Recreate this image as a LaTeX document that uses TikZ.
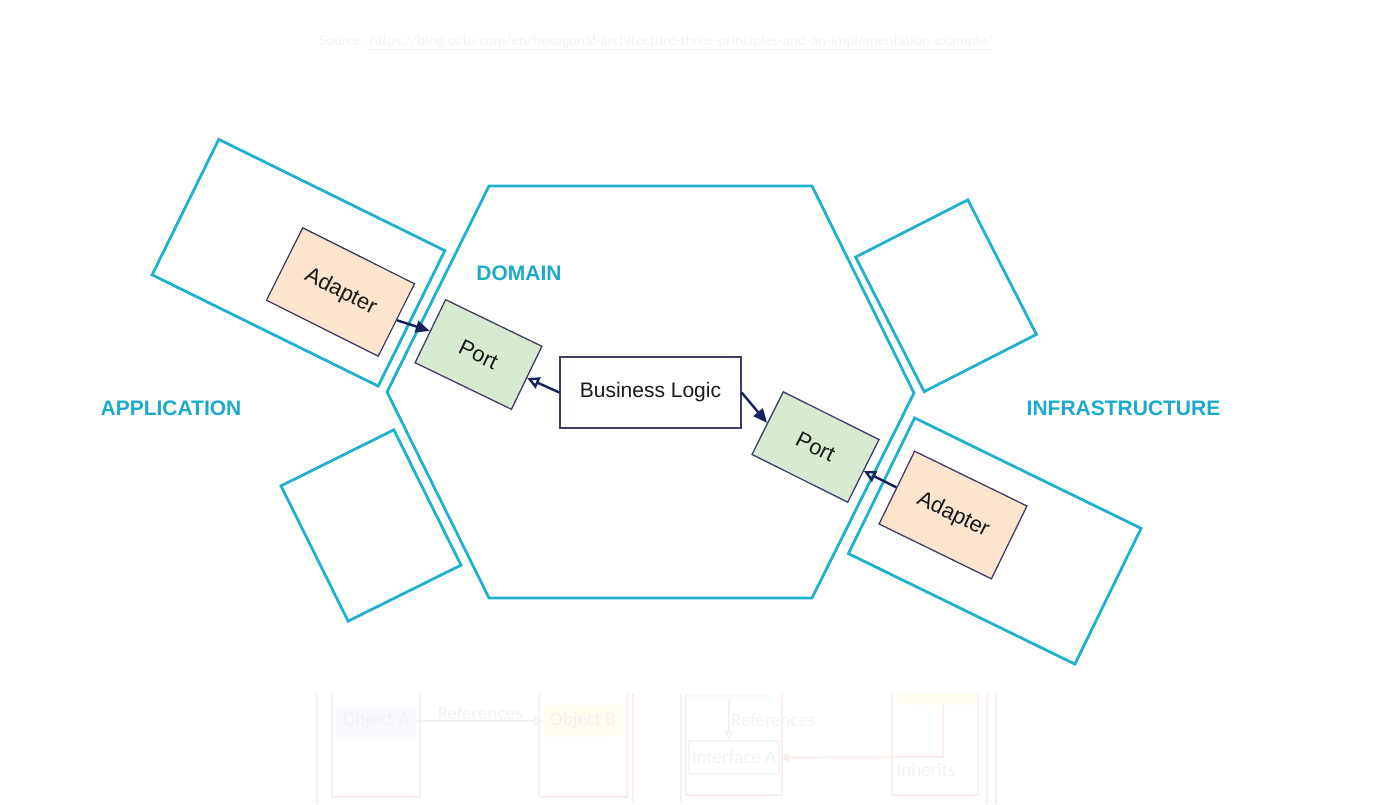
\documentclass[tikz,border=0pt]{standalone}
\usepackage{fontspec}
\setmainfont{Liberation Sans}
\newfontfamily\ghostfont{Carlito}
\usepackage{graphicx}
\usetikzlibrary{arrows.meta, positioning}
\definecolor{hexcyan}{RGB}{32,178,204}
\definecolor{labelcyan}{RGB}{28,170,204}
\definecolor{adapterfill}{RGB}{252,228,205}
\definecolor{portfill}{RGB}{217,234,211}
\definecolor{boxborder}{RGB}{62,62,102}
\definecolor{arrownavy}{RGB}{22,34,92}
\definecolor{ghostgray}{RGB}{242,242,242}
\definecolor{ghostpink}{RGB}{253,238,238}
\definecolor{ghostblue}{RGB}{248,250,253}
\definecolor{ghostframe}{RGB}{241,246,251}
\definecolor{ghostyellow}{RGB}{255,252,240}
\tikzstyle{zone} = [rectangle, draw=hexcyan, line width=2.8pt, inner sep=0pt, minimum width=252pt, minimum height=151pt]
\tikzstyle{smallzone} = [zone, minimum width=126pt, minimum height=151pt]
\tikzstyle{hexline} = [draw=hexcyan, line width=2.8pt, line join=miter]
\tikzstyle{adapter} = [rectangle, draw=boxborder, line width=1.3pt, fill=adapterfill, minimum width=125pt, minimum height=81pt, text=black!90, font=\fontsize{22}{26}\selectfont]
\tikzstyle{port} = [rectangle, draw=boxborder, line width=1.3pt, fill=portfill, minimum width=107pt, minimum height=70pt, text=black!90, font=\fontsize{22}{26}\selectfont]
\tikzstyle{logic} = [rectangle, draw=boxborder, line width=1.3pt, fill=white, minimum width=181pt, minimum height=71pt, text=black!90, font=\fontsize{21}{25}\selectfont]
\tikzstyle{layer} = [text=labelcyan, font=\bfseries\fontsize{21}{25}\selectfont]
\tikzstyle{uses} = [-{Triangle[length=14pt, width=12pt]}, line width=2.4pt, draw=arrownavy]
\tikzstyle{implements} = [-{Triangle[open, length=12pt, width=12pt]}, line width=2.4pt, draw=arrownavy]
\tikzstyle{ghosttext} = [text=ghostgray, font=\ghostfont\fontsize{19}{22}\selectfont, inner sep=1pt]
\tikzstyle{ghostbox} = [rectangle, inner sep=0pt, text=ghostgray, font=\ghostfont\fontsize{19}{22}\selectfont]
\tikzstyle{ghostwall} = [draw=ghostpink, line width=1.2pt]
\tikzstyle{ghostarrow} = [-{Triangle[open, length=9pt, width=9pt]}, draw=ghostgray, line width=1.6pt]
\tikzstyle{ghostinherit} = [-{Triangle[length=9pt, width=9pt]}, draw=ghostpink, line width=2.2pt]

\begin{document}
\begin{tikzpicture}[x=1pt, y=1pt, node distance=172pt]
\useasboundingbox (0,0) rectangle (1395,804);
% faint leftovers of the next slide
\node (src) [ghosttext] at (656,762) {\resizebox{674pt}{!}{Source: \underline{https://blog.octo.com/en/hexagonal-architecture-three-principles-and-an-implementation-example/}}};
\draw [ghostwall, draw=ghostgray] (317,0) -- (317,110);
\draw [ghostwall] (332,110) -- (332,7) -- (420,7) -- (420,110);
\draw [ghostwall] (539,110) -- (539,7) -- (627,7) -- (627,110);
\draw [ghostwall] (633,0) -- (633,110);
\draw [ghostwall, draw=ghostgray] (681,0) -- (681,110);
\draw [ghostwall] (686,110) -- (686,9) -- (782,9) -- (782,110);
\draw [ghostwall] (892,110) -- (892,9) -- (978,9) -- (978,110);
\draw [ghostwall] (987,0) -- (987,110);
\draw [ghostwall, draw=ghostgray] (996,0) -- (996,110);
\node (objA) [ghostbox, fill=ghostblue, minimum width=82pt, minimum height=32pt] at (376,83) {Object A};
\node (objB) [ghostbox, fill=ghostyellow, minimum width=80pt, minimum height=32pt] at (583,83) {Object B};
\draw [ghostarrow] (objA) -- (objB) node [midway, above, ghosttext] {References};
\node (topC) [ghostbox, fill=ghostblue, minimum width=82pt, minimum height=5pt] at (729,107.5) {};
\node (ifA) [ghostbox, draw=ghostframe, line width=1.2pt, minimum width=90pt, minimum height=33pt] at (734,46.5) {Interface A};
\draw [ghostarrow] (topC.south) -- (topC.south |- ifA.north) node [midway, right, ghosttext] {References};
\node (topD) [ghostbox, fill=ghostyellow, minimum width=79pt, minimum height=11pt] at (936.5,104.5) {};
\coordinate (bend) at (943,47);
\draw [ghostinherit] (bend |- topD.south) -- (bend) -- (ifA.east);
\node (inh) [ghosttext] at (926,34) {Inherits};
% domain hexagon
\draw [hexline] (489,618) -- (812,618) -- (914,411) -- (812,206) -- (489,206) -- (387,412) -- cycle;
\node (dom) [layer] at (519,531) {DOMAIN};
\node (app) [layer] at (171,396) {APPLICATION};
\node (infra) [layer] at (1123.5,396) {INFRASTRUCTURE};
% core, ports and adapters
\node (bl) [logic] at (650.5,411.5) {Business Logic};
\node (pL) [port, left of=bl, yshift=38pt, rotate=-25.8] {Port};
\node (pR) [port, right of=bl, xshift=-7pt, yshift=-54.5pt, rotate=-26.5] {Port};
\node (adL) [adapter, left of=pL, xshift=34pt, yshift=62.5pt, rotate=-26.6] {Adapter};
\node (adR) [adapter, right of=pR, xshift=-34.5pt, yshift=-68pt, rotate=-26] {Adapter};
% outer zones
\node (zoneA) [zone, left of=adL, xshift=130pt, yshift=29.25pt, rotate=-26.2] {};
\node (zoneB) [zone, right of=adR, xshift=-130.25pt, yshift=-26pt, rotate=-26] {};
\node (zoneC) [smallzone, above of=adR, xshift=-7pt, yshift=47.25pt, rotate=27] {};
\node (zoneD) [smallzone, below of=adL, xshift=30.5pt, yshift=-61.5pt, rotate=26.4] {};
% dependencies
\draw [uses] (adL.east) -- (pL.west);
\draw [implements] (bl.west) -- (pL.east);
\draw [uses] (bl.east) -- (pR.west);
\draw [implements] (adR.west) -- (pR.east);
\end{tikzpicture}
\end{document}
